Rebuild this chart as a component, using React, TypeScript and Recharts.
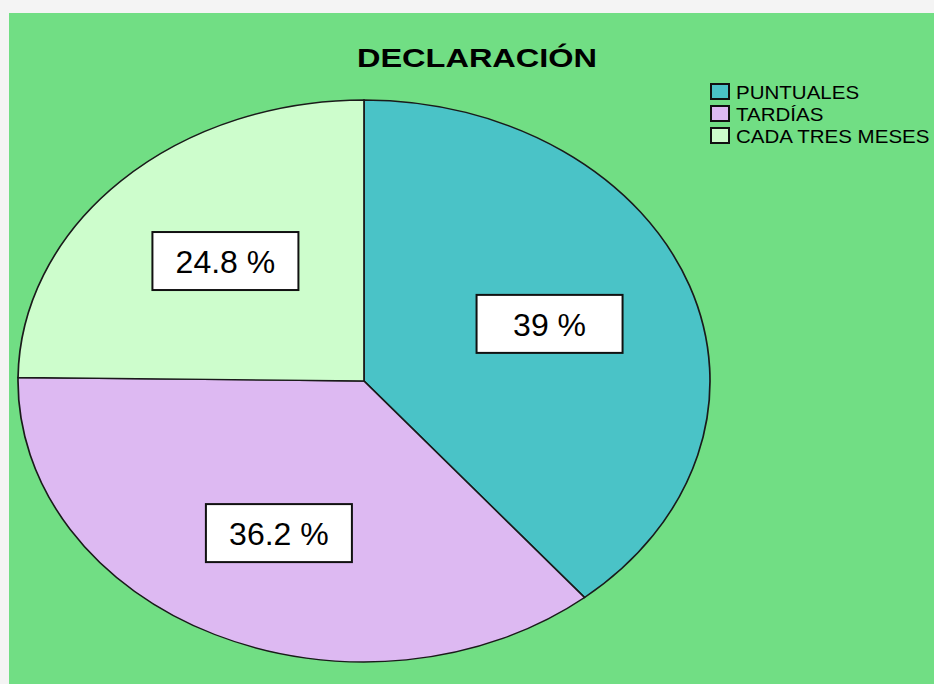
import React from 'react';
import { PieChart, Pie, Cell, Sector, Legend, Customized } from 'recharts';

const categories = ['PUNTUALES', 'TARDÍAS', 'CADA TRES MESES'];
const values = [39, 36.2, 24.8];
const colors = ['#4AC3C7', '#DDB9F2', '#CDFDCC'];
const chartTitle = 'DECLARACIÓN';

const data = categories.map((name, i) => ({ name, value: values[i] }));

const W = 925;
const H = 671;
const CX = 355;
const CY = 368;
const R = 346;
const K = 281 / 346;
const FONT = '"Liberation Sans", Arial, sans-serif';

const renderShape = (props: any) => (
  <g transform={`translate(0 ${props.cy * (1 - K)}) scale(1 ${K})`}>
    <Sector {...props} stroke="#1a1a1a" strokeWidth={1.7} />
  </g>
);

const renderLabel = (props: any) => {
  const { cx, cy, midAngle, outerRadius, value } = props;
  const rad = (Math.PI / 180) * midAngle;
  const fx = 0.57;
  const fy = 0.6;
  const x = cx + outerRadius * fx * Math.cos(rad);
  const y = cy - outerRadius * K * fy * Math.sin(rad);
  const bw = 146;
  const bh = 58;
  return (
    <g>
      <rect x={x - bw / 2} y={y - bh / 2} width={bw} height={bh} fill="#ffffff" stroke="#111" strokeWidth={2} />
      <text x={x} y={y + 12} textAnchor="middle" fontFamily={FONT} fontSize={32} fill="#000">
        {`${value} %`}
      </text>
    </g>
  );
};

const renderLegend = () => (
  <svg width={232} height={70} style={{ display: 'block' }}>
    {data.map((d, i) => (
      <g key={d.name}>
        <rect x={1} y={1 + i * 22} width={18} height={15} fill={colors[i]} stroke="#111" strokeWidth={2} />
        <g transform={`translate(26 ${16 + i * 22}) scale(1.14 1)`}>
          <text x={0} y={0} fontFamily={FONT} fontSize={18} fill="#000">
            {d.name}
          </text>
        </g>
      </g>
    ))}
  </svg>
);

const Title = () => (
  <g transform={`translate(468 54) scale(1.25 1)`}>
    <text x={0} y={0} textAnchor="middle" fontFamily={FONT} fontWeight="bold" fontSize={26} fill="#000">
      {chartTitle}
    </text>
  </g>
);

export default function App() {
  return (
    <div style={{ position: 'absolute', left: 0, top: 0, width: 934, height: 684, background: '#f4f4f4', overflow: 'hidden' }}>
      <div style={{ position: 'absolute', left: 9, top: 13, width: W, height: H, background: '#71DE84' }}>
        <PieChart width={W} height={H} margin={{ top: 0, right: 0, bottom: 0, left: 0 }}>
          <Customized component={Title} />
          <Pie
            data={data}
            dataKey="value"
            nameKey="name"
            cx={CX}
            cy={CY}
            outerRadius={R}
            startAngle={90}
            endAngle={-270}
            isAnimationActive={false}
            labelLine={false}
            label={renderLabel}
            shape={renderShape}
          >
            {data.map((d, i) => (
              <Cell key={d.name} fill={colors[i]} />
            ))}
          </Pie>
          <Legend
            content={renderLegend}
            wrapperStyle={{ position: 'absolute', left: 701, top: 70, width: 232 }}
          />
        </PieChart>
      </div>
    </div>
  );
}
